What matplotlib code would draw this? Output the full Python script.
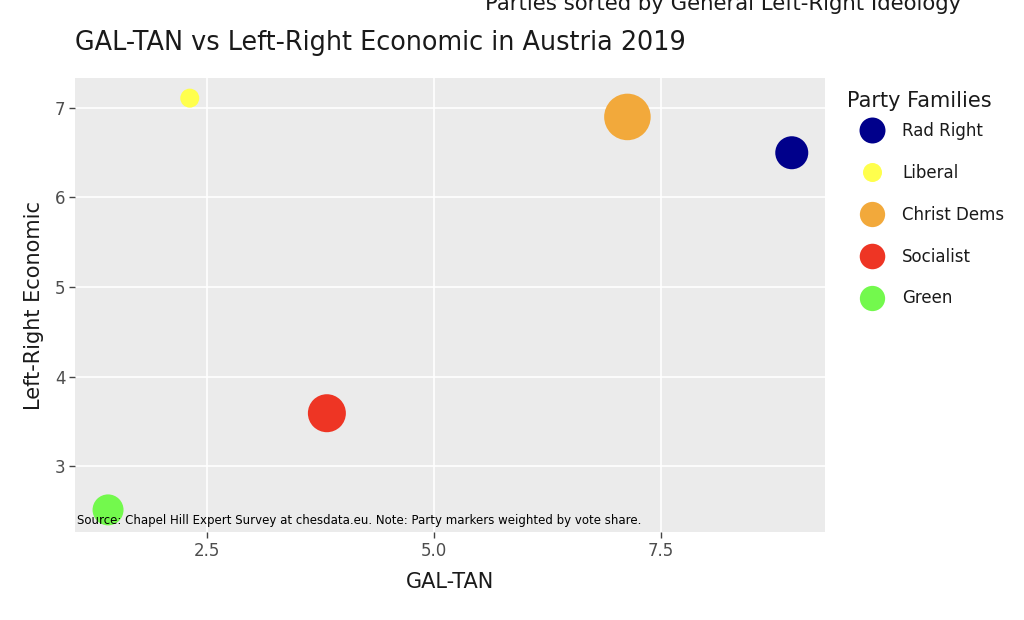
import matplotlib
matplotlib.use("Agg")
import matplotlib.pyplot as plt
from matplotlib.lines import Line2D

plt.rcParams['font.family'] = ['DejaVu Sans']

# Data
families = ["Rad Right", "Liberal", "Christ Dems", "Socialist", "Green"]
gal_tan = [8.94, 2.31, 7.13, 3.82, 1.41]
lr_econ = [6.50, 7.11, 6.90, 3.59, 2.51]
vote_share = [16.0, 5.3, 31.8, 21.2, 14.1]
colors = ["#00008B", "#FFFF4D", "#F2A93B", "#EE3524", "#73F94D"]

fig = plt.figure(figsize=(10.24, 6.2), dpi=100)
ax = fig.add_axes([75/1024, 1-532/620, 750/1024, 454/620])
ax.set_facecolor("#EBEBEB")
for s in ax.spines.values():
    s.set_visible(False)

ax.set_xlim(1.046, 9.306)
ax.set_ylim(2.263, 7.335)
ax.set_xticks([2.5, 5.0, 7.5])
ax.set_xticklabels(["2.5", "5.0", "7.5"])
ax.set_yticks([3, 4, 5, 6, 7])
ax.grid(True, color="white", linewidth=1.2)
ax.set_axisbelow(True)
ax.tick_params(axis="both", colors="#444444", labelsize=12, length=4, width=1,
               direction="out", pad=3)
ax.tick_params(axis="both", labelcolor="#4D4D4D")

k = 35.3
for x, y, v, c in zip(gal_tan, lr_econ, vote_share, colors):
    ax.scatter([x], [y], s=k * v, color=c, edgecolors="none", zorder=3)

ax.set_xlabel("GAL-TAN", fontsize=15, color="#1a1a1a", labelpad=9)
ax.set_ylabel("Left-Right Economic", fontsize=15, color="#1a1a1a", labelpad=8)

ax.text(0.003, 0.010, "Source: Chapel Hill Expert Survey at chesdata.eu. Note: Party markers weighted by vote share.",
        transform=ax.transAxes, fontsize=8.5, color="black", ha="left", va="bottom", zorder=5)

fig.text(75/1024, 1-50/620, "GAL-TAN vs Left-Right Economic in Austria 2019",
         fontsize=18.4, color="#1a1a1a", ha="left", va="baseline")
fig.text(723/1024, 1-10/620, "Parties sorted by General Left-Right Ideology",
         fontsize=15.3, color="#1a1a1a", ha="center", va="baseline")

fig.text(847/1024, 1-101/620, "Party Families", fontsize=15, color="#1a1a1a",
         ha="left", va="center")

legend_ms = [18.7, 13.7, 18.2, 18.4, 18.2]
handles = [Line2D([0], [0], marker="o", linestyle="", markersize=m, markerfacecolor=c,
                  markeredgecolor="none") for m, c in zip(legend_ms, colors)]
leg = fig.legend(handles, families, loc="upper left",
                 bbox_to_anchor=(859.5/1024, 1-122/620), frameon=False, fontsize=12,
                 labelspacing=1.43, handletextpad=1.05, borderpad=0,
                 borderaxespad=0, handlelength=1.5)
for t in leg.get_texts():
    t.set_color("#1a1a1a")

fig.savefig("out.png", dpi=100)
